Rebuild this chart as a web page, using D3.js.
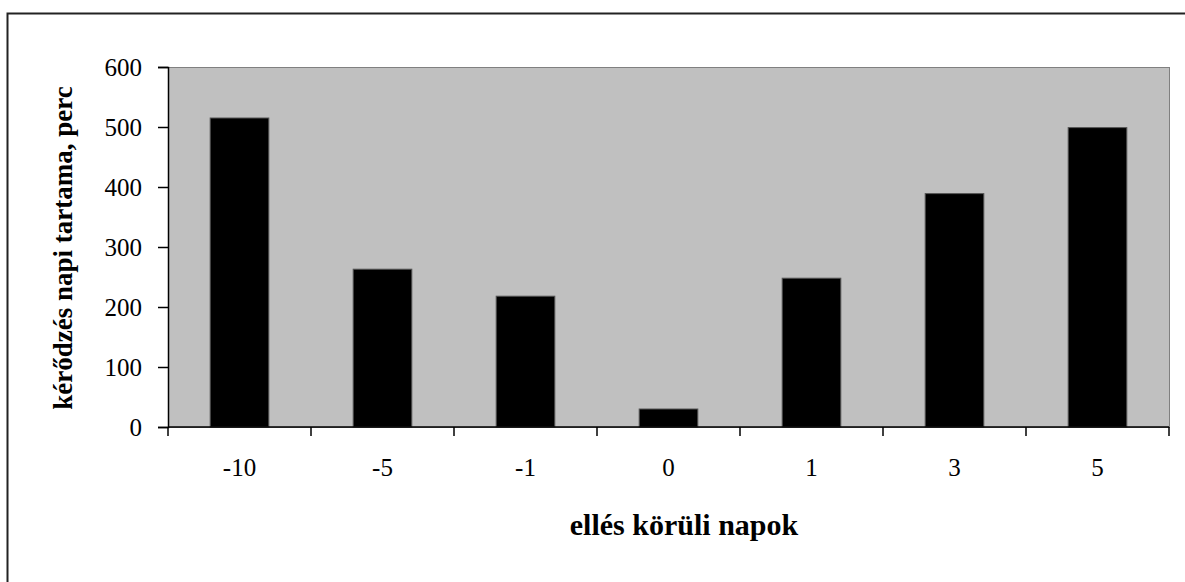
<!DOCTYPE html>
<html>
<head>
<meta charset="utf-8">
<script src="https://cdn.jsdelivr.net/npm/d3@7"></script>
<style>
  html, body { margin: 0; padding: 0; background: #fff; }
  svg { display: block; }
</style>
</head>
<body>
<svg id="chart" width="1185" height="582"></svg>
<script>
const categories = ["-10", "-5", "-1", "0", "1", "3", "5"];
const values = [515, 263, 218, 30, 248, 389, 499];
const yTicks = [0, 100, 200, 300, 400, 500, 600];
const xTitle = "ellés körüli napok";
const yTitle = "kérődzés napi tartama, perc";

const svg = d3.select("#chart");
const W = 1185, H = 582;
const plot = { left: 168, right: 1169, top: 67, bottom: 427 };

// outer chart border (extends beyond the viewport on right and bottom)
svg.append("rect")
  .attr("x", 7.5).attr("y", 13.5)
  .attr("width", 1300).attr("height", 700)
  .attr("fill", "#fff").attr("stroke", "#222").attr("stroke-width", 2);

const x = d3.scaleBand()
  .domain(categories)
  .range([plot.left, plot.right])
  .paddingInner(0.59)
  .paddingOuter(0.295);

const y = d3.scaleLinear()
  .domain([0, 600])
  .range([plot.bottom, plot.top]);

// plot area
svg.append("rect")
  .attr("x", plot.left + 0.5).attr("y", plot.top + 0.5)
  .attr("width", plot.right - plot.left).attr("height", plot.bottom - plot.top)
  .attr("fill", "#c0c0c0").attr("stroke", "#808080").attr("stroke-width", 1);

// bars
svg.append("g").selectAll("rect")
  .data(values)
  .join("rect")
  .attr("x", (d, i) => x(categories[i]))
  .attr("y", d => y(d))
  .attr("width", x.bandwidth())
  .attr("height", d => y(0) - y(d))
  .attr("fill", "#000")
  .attr("stroke", "#555")
  .attr("stroke-width", 1);

// y axis
const yAxis = d3.axisLeft(y).tickValues(yTicks).tickSize(10).tickPadding(16).tickFormat(d3.format("d"));
const gy = svg.append("g").attr("transform", `translate(${plot.left},0)`).call(yAxis);
gy.select(".domain").attr("stroke", "#000").attr("stroke-width", 1.5);
gy.selectAll(".tick line").attr("stroke", "#000").attr("stroke-width", 1.5);
gy.selectAll(".tick text")
  .attr("font-family", "'Liberation Serif', 'Times New Roman', serif")
  .attr("font-size", 25).attr("fill", "#000");

// x axis: line at zero with ticks at category boundaries
const gx = svg.append("g").attr("transform", `translate(0,${y(0)})`);
gx.append("line")
  .attr("x1", plot.left).attr("x2", plot.right)
  .attr("y1", 0).attr("y2", 0)
  .attr("stroke", "#000").attr("stroke-width", 1.5);
const step = x.step();
const boundaries = d3.range(categories.length + 1).map(i => plot.left + i * step);
gx.selectAll("line.tk")
  .data(boundaries)
  .join("line")
  .attr("class", "tk")
  .attr("x1", d => d).attr("x2", d => d)
  .attr("y1", 0).attr("y2", 9)
  .attr("stroke", "#000").attr("stroke-width", 1.5);
gx.selectAll("text")
  .data(categories)
  .join("text")
  .attr("x", d => x(d) + x.bandwidth() / 2)
  .attr("y", 49)
  .attr("text-anchor", "middle")
  .attr("font-family", "'Liberation Serif', 'Times New Roman', serif")
  .attr("font-size", 25).attr("fill", "#000")
  .text(d => d);

// axis titles
svg.append("text")
  .attr("x", 684).attr("y", 535)
  .attr("text-anchor", "middle")
  .attr("font-family", "'Liberation Serif', 'Times New Roman', serif")
  .attr("font-weight", "bold").attr("font-size", 30).attr("fill", "#000")
  .text(xTitle);

svg.append("text")
  .attr("transform", "translate(72,248) rotate(-90)")
  .attr("text-anchor", "middle")
  .attr("font-family", "'Liberation Serif', 'Times New Roman', serif")
  .attr("font-weight", "bold").attr("font-size", 27).attr("fill", "#000")
  .text(yTitle);
</script>
</body>
</html>
